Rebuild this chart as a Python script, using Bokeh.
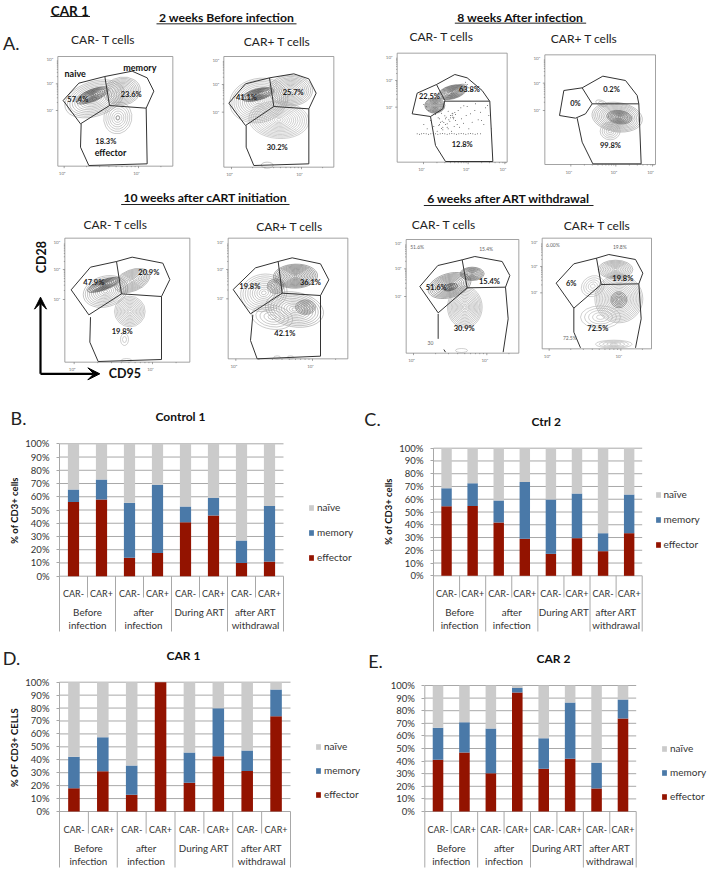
from bokeh.plotting import figure
from bokeh.layouts import column, row
from bokeh.models import (Range1d, FixedTicker, PrintfTickFormatter, Legend, LegendItem,
                          Arrow, VeeHead, ColumnDataSource)
from bokeh.core.properties import value
from bokeh.embed import file_html
from bokeh.resources import INLINE
import math

FONT = "Lato"
GROUP_TEXT = ["Before\ninfection", "after\ninfection", "During ART", "after ART\nwithdrawal"]
CELLS = ["CAR-", "CAR+", "CAR-", "CAR+", "CAR-", "CAR+", "CAR-", "CAR+"]
SERIES = ["effector", "memory", "naïve"]
COLORS = ["#931300", "#4a79a8", "#cbcbcb"]

B_EFFECTOR = [56, 58, 13.9, 17.6, 40.8, 45.8, 10, 11]
B_MEMORY = [9.5, 15, 41.5, 51.4, 11.8, 13.4, 17, 42.1]
B_NAIVE = [34.5, 27, 44.6, 31, 47.4, 40.8, 73, 46.9]
C_EFFECTOR = [54.6, 54.8, 41.8, 29, 17.2, 29.5, 19.3, 33.4]
C_MEMORY = [14.1, 17.8, 17.2, 44.6, 42.6, 35, 14.1, 30.3]
C_NAIVE = [31.3, 27.4, 41, 26.4, 40.2, 35.5, 66.6, 36.3]
D_EFFECTOR = [18, 31.2, 12.9, 100, 22.2, 42.8, 31.4, 73.7]
D_MEMORY = [24.3, 26.3, 22.7, 0, 23.4, 37.1, 15.8, 20.6]
D_NAIVE = [57.7, 42.5, 64.4, 0, 54.4, 20.1, 52.8, 5.7]
E_EFFECTOR = [41, 46.8, 30.4, 94.4, 33.9, 41.8, 18.3, 73.8]
E_MEMORY = [25.4, 24.1, 35.5, 3.7, 24.3, 44.7, 20.3, 15.1]
E_NAIVE = [33.6, 29.1, 34.1, 1.9, 41.8, 13.5, 61.4, 11.1]
Y_TICKS = [0, 10, 20, 30, 40, 50, 60, 70, 80, 90, 100]

# ---- flow cytometry panels: everything in 3x crop coordinates of each quadrant
P1 = dict(o=(0, 0), box=(172, 168, 517, 497),
    gates=[[(188,300),(235,248),(313,228),(327,315),(240,370),(188,300)],
           [(313,228),(395,212),(440,232),(460,272),(437,323),(327,315)],
           [(437,323),(440,490),(265,495),(240,440),(242,370)]],
    pct=[("57.4%",232,298),("23.6%",392,283),("18.3%",316,422)],
    yt=[(330,"10¹"),(250,"10²"),(178,"10³")], xt=[(185,"10⁰"),(408,"10¹")],
    blobs=[(282,295,92,52,18,12,"#969696"),(275,285,52,18,22,9,"#3c3c3c"),(365,272,55,42,8,11,"#909090"),
           (352,352,42,48,-12,7,"#a2a2a2"),(352,352,5,6,0,1,"#777777")])
P2 = dict(o=(0, 0), box=(670, 168, 1000, 500),
    gates=[[(685,308),(735,250),(807,232),(820,318),(735,375),(685,308)],
           [(807,232),(880,220),(925,235),(947,278),(925,325),(820,318)],
           [(925,325),(925,490),(760,495),(737,440),(737,375)]],
    pct=[("41.1%",738,290),("25.7%",878,275),("30.2%",830,442)],
    yt=[(335,"10¹"),(252,"10²"),(180,"10³")], xt=[(687,"10⁰"),(897,"10¹")],
    blobs=[(775,300,88,66,12,14,"#a0a0a0"),(772,282,50,17,15,9,"#3c3c3c"),(870,270,66,46,0,12,"#909090"),
           (835,358,90,56,-4,14,"#a8a8a8"),(800,494,18,9,0,1,"#999999")])
P3 = dict(o=(355, 0), box=(125, 158, 455, 485),
    gates=[[(262,325),(225,348),(170,340),(185,278),(243,252),(268,300),(262,325)],
           [(243,252),(298,222),(335,232),(380,270),(403,303),(412,483),(270,483),(240,435),(225,348)],
           [(268,302),(403,302)]],
    pct=[("22.5%",222,287),("63.8%",342,268),("12.8%",320,432)],
    yt=[(320,"10¹"),(240,"10²"),(170,"10³")], xt=[(198,"10¹"),(332,"10²"),(442,"10³")],
    blobs=[(238,315,30,23,0,10,"#4a4a4a"),(290,275,44,20,15,11,"#4a4a4a"),(315,262,20,10,15,4,"#777777")])
P3_DOTS_X = [185,198,212,226,240,254,268,282,296,310,324,338,352,366,375,205,215,225,235,245,255,262,270,278,285,292,
             300,308,316,325,335,345,360,375,390,400,250,262,275,288,296,252,260,272,283,294,305,318,332,350,368,385,
             240,248,258,268,278,290,300,312,324,340,358,378,396,408,212,220,205,335,345,340,330,350,
             192,205,219,233,247,261,275,289,303,317,331,345,359,290,295,285,280,292,298,270,265,275,258,252]
P3_DOTS_Y = [400,400,400,400,400,400,400,400,400,400,400,400,400,400,400,372,385,360,378,392,365,380,355,385,345,350,
             342,330,322,316,318,340,310,335,322,345,375,388,370,392,378,355,362,350,362,355,372,355,345,365,358,372,
             342,352,338,346,332,338,360,380,368,385,330,360,315,385,318,330,312,252,240,262,245,270,
             401,399,401,399,401,399,401,399,401,399,401,399,401,345,350,352,358,340,336,372,366,380,384,372]
P4 = dict(o=(355, 0), box=(568, 163, 900, 492),
    gates=[[(690,340),(660,353),(612,345),(625,270),(680,262),(710,310),(690,340)],
           [(680,262),(742,227),(810,240),(845,285),(850,310),(857,490),(712,490),(680,425),(665,353)],
           [(710,310),(850,310)]],
    pct=[("0%",660,308),("0.2%",768,267),("99.8%",765,436)],
    yt=[(330,"10¹"),(248,"10²"),(175,"10³")], xt=[(640,"10¹"),(775,"10²"),(885,"10³")],
    blobs=[(785,350,76,44,-8,14,"#909090"),(792,350,38,20,-8,9,"#606060"),(764,392,30,26,0,5,"#a0a0a0"),
           (738,308,18,8,-20,2,"#999999")])
P5 = dict(o=(0, 185), box=(193, 158, 568, 530),
    gates=[[(212,313),(270,245),(348,228),(363,325),(265,388),(212,313)],
           [(348,228),(395,215),(487,233),(508,282),(483,333),(363,325)],
           [(483,333),(483,522),(293,528),(268,470),(270,395)]],
    pct=[("47.9%",280,290),("20.9%",445,262),("19.8%",365,437)],
    yt=[(342,"10¹"),(252,"10²"),(172,"10³")], xt=[(215,"10⁰"),(450,"10¹")],
    blobs=[(315,318,68,46,15,11,"#969696"),(310,298,52,15,20,8,"#3c3c3c"),(395,285,56,32,22,11,"#808080"),
           (388,378,46,46,0,11,"#a0a0a0"),(372,462,12,18,0,2,"#aaaaaa"),(378,525,16,6,0,1,"#aaaaaa")])
P6 = dict(o=(0, 185), box=(683, 158, 1042, 520),
    gates=[[(698,312),(765,247),(833,228),(845,323),(750,385),(698,312)],
           [(833,228),(875,217),(960,235),(985,283),(960,330),(845,323)],
           [(960,330),(960,512),(770,520),(750,465),(757,388)]],
    pct=[("19.8%",748,302),("36.1%",930,290),("42.1%",853,443)],
    yt=[(340,"10¹"),(252,"10²"),(172,"10³")], xt=[(700,"10⁰"),(930,"10¹")],
    blobs=[(790,322,70,56,10,10,"#a0a0a0"),(825,302,25,22,0,6,"#666666"),(885,272,66,36,2,14,"#606060"),
           (882,372,88,52,-10,11,"#909090"),(915,365,30,22,0,7,"#666666"),(815,395,62,36,-10,5,"#a0a0a0"),
           (830,516,10,5,0,1,"#aaaaaa"),(870,516,10,5,0,1,"#aaaaaa")])
P7 = dict(o=(355, 185), box=(152, 162, 490, 503),
    gates=[[(193,303),(247,240),(320,223),(335,307),(248,382),(193,303)],
           [(320,223),(358,213),(440,228),(463,270),(450,305),(335,307)],
           [(450,305),(458,400),(443,500)],[(248,385),(248,460)],[(265,492),(270,500)]],
    pct=[("51.6%",242,305),("15.4%",402,288),("30.9%",326,428)],
    note=[("51.6%",185,183),("15.4%",392,189),("30",225,473)],
    yt=[(333,"10¹"),(250,"10²"),(175,"10³")], xt=[(168,"10⁰"),(388,"10¹")],
    blobs=[(282,300,66,36,16,12,"#606060"),(285,305,22,10,15,4,"#333333"),(350,265,36,20,0,10,"#606060"),
           (328,365,52,62,0,14,"#a0a0a0"),(318,495,18,6,0,1,"#aaaaaa")])
P8 = dict(o=(355, 185), box=(560, 158, 888, 490),
    gates=[[(602,293),(655,235),(723,218),(737,297),(655,368),(602,293)],
           [(723,218),(760,207),(840,222),(862,263),(850,295),(737,297)],
           [(850,295),(857,400),(840,487)],[(655,368),(655,440),(675,487)]],
    pct=[("6%",647,293),("19.8%",802,278),("72.5%",727,428)],
    note=[("6.00%",592,177),("19.8%",793,183),("72.5%",643,457)],
    yt=[(322,"10¹"),(243,"10²"),(172,"10³")], xt=[(575,"10⁰"),(790,"10¹")],
    blobs=[(790,340,72,72,0,16,"#a0a0a0"),(790,343,24,24,0,6,"#666666"),(780,252,52,28,0,10,"#888888"),
           (712,302,36,30,30,5,"#aaaaaa"),(735,395,60,34,0,5,"#aaaaaa"),(775,476,55,12,0,5,"#aaaaaa")])
PANELS = [P1, P2, P3, P4, P5, P6, P7, P8]

HEADINGS = [("2 weeks Before infection",(0,0),678,52,70,468,888),
            ("8 weeks After infection",(355,0),495,50,68,298,692),
            ("10 weeks after cART initiation",(0,185),615,37,57,362,867),
            ("6 weeks after ART withdrawal",(355,185),460,40,60,205,714)]
SUBTITLES = [("CAR- T cells",(0,0),308,117),("CAR+ T cells",(0,0),830,122),
             ("CAR- T cells",(355,0),258,108),("CAR+ T cells",(355,0),686,113),
             ("CAR- T cells",(0,185),345,118),("CAR+ T cells",(0,185),867,124),
             ("CAR- T cells",(355,185),265,116),("CAR+ T cells",(355,185),725,119)]
GATE_NAMES = [("naive",224,220),("memory",418,202),("effector",330,455)]


def px(o, x, y):
    return o[0] + x / 3, o[1] + y / 3


def flow_figure():
    p = figure(width=711, height=395, x_range=Range1d(0, 711), y_range=Range1d(395, 0),
               x_axis_location=None, y_axis_location=None, toolbar_location=None,
               output_backend="svg", min_border=0, outline_line_color=None)
    p.grid.visible = False

    def texts(items, size, style="normal", color="#111111", angle=0):
        p.text(x=[i[0] for i in items], y=[i[1] for i in items], text=[i[2] for i in items],
               text_font=value(FONT), text_font_size=size, text_font_style=style, text_color=color,
               text_align="center", text_baseline="middle", angle=angle)

    for P in PANELS:
        o = P["o"]
        l, t, r, b = P["box"]
        bx = [px(o, l, t), px(o, r, t), px(o, r, b), px(o, l, b), px(o, l, t)]
        p.line([q[0] for q in bx], [q[1] for q in bx], line_color="#8c8c8c", line_width=0.8)
        x0s, y0s, x1s, y1s = [], [], [], []
        yy = [v[0] for v in P["yt"]]
        for a, c in zip(yy[:-1], yy[1:]):
            for k in range(1, 10):
                y = a + (c - a) * math.log10(k)
                ln = 6 if k == 1 else 3
                A, B_ = px(o, l, y), px(o, l - ln, y)
                x0s += [A[0]]; y0s += [A[1]]; x1s += [B_[0]]; y1s += [B_[1]]
        xx = [v[0] for v in P["xt"]]
        step = xx[1] - xx[0]
        for a in xx:
            for k in range(1, 10):
                x = a + step * math.log10(k) + 6
                if x > r:
                    continue
                ln = 6 if k == 1 else 3
                A, B_ = px(o, x, b), px(o, x, b + ln)
                x0s += [A[0]]; y0s += [A[1]]; x1s += [B_[0]]; y1s += [B_[1]]
        p.segment(x0s, y0s, x1s, y1s, line_color="#666666", line_width=0.6)
        ex, ey, ew, eh, ea, ec = [], [], [], [], [], []
        for cx, cy, rx, ry, ang, n, col in P["blobs"]:
            for k in range(n):
                f = (n - k) / n
                c_ = px(o, cx, cy)
                ex.append(c_[0]); ey.append(c_[1])
                ew.append(2 * rx * f / 3); eh.append(2 * ry * f / 3)
                ea.append(math.radians(ang)); ec.append(col)
        p.ellipse(ex, ey, width=ew, height=eh, angle=ea, fill_color=None, line_color=ec, line_width=0.55)
        xs = [[px(o, *q)[0] for q in g] for g in P["gates"]]
        ys = [[px(o, *q)[1] for q in g] for g in P["gates"]]
        p.multi_line(xs, ys, line_color="#333333", line_width=1)
        texts([(*px(o, x, y), s) for s, x, y in P["pct"]], "7.5px", "bold", "#1a1a1a")
        if "note" in P:
            texts([(*px(o, x, y), s) for s, x, y in P["note"]], "5px", "normal", "#666666")
        texts([(*px(o, l - 24, y), s) for y, s in P["yt"]], "4.5px", "normal", "#777777")
        texts([(*px(o, x, b + 23), s) for x, s in P["xt"]], "4.5px", "normal", "#777777")

    dx = [px((355, 0), x, y)[0] for x, y in zip(P3_DOTS_X, P3_DOTS_Y)]
    dy = [px((355, 0), x, y)[1] for x, y in zip(P3_DOTS_X, P3_DOTS_Y)]
    p.scatter(dx, dy, size=1, color="#555555", line_color=None)

    texts([(*px((0, 0), x, y), s) for s, x, y in GATE_NAMES], "9px", "bold")
    texts([(*px(o, x, y), s) for s, o, x, y, *_ in HEADINGS], "12.2px", "bold")
    texts([(*px(o, x, y), s) for s, o, x, y in SUBTITLES], "12px", "normal", "#222222")
    for s, o, x, y, u, a, c in HEADINGS:
        A, B_ = px(o, a, u), px(o, c, u)
        p.line([A[0], B_[0]], [A[1], B_[1]], line_color="#222222", line_width=1)
    texts([(*px((0, 0), 208, 30), "CAR 1")], "13.5px", "bold")
    p.line([50, 89.5], [16, 16], line_color="#222222", line_width=1)
    texts([(*px((0, 0), 32, 127), "A.")], "18px", "normal", "#222222")
    texts([(*px((0, 185), 122, 215), "CD28")], "12.5px", "bold", "#111111", angle=math.pi / 2)
    texts([(*px((0, 185), 373, 565), "CD95")], "12.5px", "bold")
    o = (0, 185)
    for a, c in [((120, 565), (120, 335)), ((120, 565), (298, 565))]:
        A, C = px(o, *a), px(o, *c)
        p.add_layout(Arrow(end=VeeHead(size=12, fill_color="black", line_color="black"),
                           x_start=A[0], y_start=A[1], x_end=C[0], y_end=C[1],
                           line_color="black", line_width=2.2))
    return p


def chart(title, letter, ylabel, eff, mem, nai, x0, y0, W, H, L, R, y100, ybase, yrow, ybot,
          title_xy, letter_xy, ylab_xy, legend_xy, group_y, group_lh):
    val = lambda img: 100 * (ybase - img) / (ybase - y100)
    sc = (R - L) / 8
    to_x = lambda img: (img - L) / sc
    pos = [i + 0.5 for i in range(8)]
    # the frame fills the whole figure; axes are pinned at the chart's origin
    p = figure(width=W, height=H, x_range=Range1d(to_x(x0), to_x(x0 + W)),
               y_range=Range1d(val(y0 + H), val(y0)), toolbar_location=None, output_backend="svg",
               outline_line_color=None, min_border=0)
    p.grid.visible = False
    p.segment([0] * 11, Y_TICKS, [8] * 11, Y_TICKS, line_color="#a8a8a8", line_width=1)
    table_x = list(range(9))
    y0s = [100 if i == 0 else 0 for i in table_x]
    y1s = [val(ybot) if i % 2 == 0 else val(yrow) for i in table_x]
    p.segment(table_x, y0s, table_x, y1s, line_color="#a8a8a8", line_width=1)

    src = ColumnDataSource(dict(x=pos, effector=eff, memory=mem))
    src.data["naïve"] = nai
    rs = p.vbar_stack(SERIES, x="x", width=0.4, source=src, color=COLORS, line_color=None)

    ya = p.yaxis[0]
    ya.fixed_location = 0
    ya.ticker = FixedTicker(ticks=Y_TICKS)
    ya.formatter = PrintfTickFormatter(format="%d%%")
    ya.bounds = (0, 100)
    ya.axis_line_color = None
    ya.major_tick_out = 3
    ya.major_tick_in = 0
    ya.minor_tick_line_color = None
    ya.major_tick_line_color = "#a8a8a8"
    ya.major_label_text_font = FONT
    ya.major_label_text_font_size = "9.5px"
    ya.major_label_text_color = "#333333"
    ya.major_label_standoff = 7

    xa = p.xaxis[0]
    xa.fixed_location = 0
    xa.ticker = FixedTicker(ticks=pos)
    xa.major_label_overrides = dict(zip(pos, CELLS))
    xa.axis_line_color = None
    xa.major_tick_line_color = None
    xa.minor_tick_line_color = None
    xa.major_label_text_font = FONT
    xa.major_label_text_font_size = "9px"
    xa.major_label_text_color = "#333333"
    xa.major_label_standoff = 6

    p.text(x=[1, 3, 5, 7], y=[val(group_y)] * 4, text=GROUP_TEXT, text_font=value(FONT), text_font_size="9.8px",
           text_color="#333333", text_align="center", text_baseline="top", text_line_height=group_lh)

    def label(xy, s, size, style="normal", color="#222222", angle=0):
        p.text(x=[to_x(xy[0])], y=[val(xy[1])], text=[s], text_font=value(FONT), text_font_size=size,
               text_font_style=style, text_color=color, angle=angle,
               text_align="center", text_baseline="middle")

    label(title_xy, title, "12px", "bold", "#111111")
    label(letter_xy, letter, "18px")
    if ylabel:
        label(ylab_xy, ylabel, "9.5px", "bold", "#111111", math.pi / 2)
    leg = Legend(items=[LegendItem(label=SERIES[i], renderers=[rs[i]]) for i in (2, 1, 0)],
                 location=(legend_xy[0] - x0, y0 + H - legend_xy[1]), padding=0, margin=0,
                 spacing=int(legend_xy[2]) - 12, glyph_width=6, glyph_height=7, label_height=12,
                 label_standoff=3, label_text_font=FONT, label_text_font_size="10px",
                 label_text_color="#333333", border_line_color=None, background_fill_color=None,
                 background_fill_alpha=0)
    p.add_layout(leg)
    return p


top = flow_figure()
b = chart("Control 1", "B.", "% of CD3+ cells", B_EFFECTOR, B_MEMORY, B_NAIVE,
          0, 395, 362, 245, 59, 283, 443.3, 575.7, 597, 631,
          (180, 416), (18, 417), (14, 510), (308, 563, 25), 605.5, 1.1)
c = chart("Ctrl 2", "C.", "% of CD3+ cells", C_EFFECTOR, C_MEMORY, C_NAIVE,
          362, 395, 349, 245, 433, 641.7, 447.7, 575.3, 597, 631,
          (545.7, 421), (372, 418), (388, 511), (654.5, 550, 25), 605.5, 1.1)
d = chart("CAR 1", "D.", "% OF CD3+ CELLS", D_EFFECTOR, D_MEMORY, D_NAIVE,
          0, 640, 362, 233, 59, 290, 681.7, 811, 833, 867,
          (183, 655), (11, 657), (14, 747), (315, 800, 24), 841, 1.15)
e = chart("CAR 2", "E.", None, E_EFFECTOR, E_MEMORY, E_NAIVE,
          362, 640, 349, 233, 424.3, 635.7, 685, 811, 833, 867,
          (553, 658), (375, 660), None, (661, 802, 24), 841, 1.15)

page = column(top, row(b, c, spacing=0), row(d, e, spacing=0), spacing=0)
open("out.html", "w").write(file_html(page, INLINE))
